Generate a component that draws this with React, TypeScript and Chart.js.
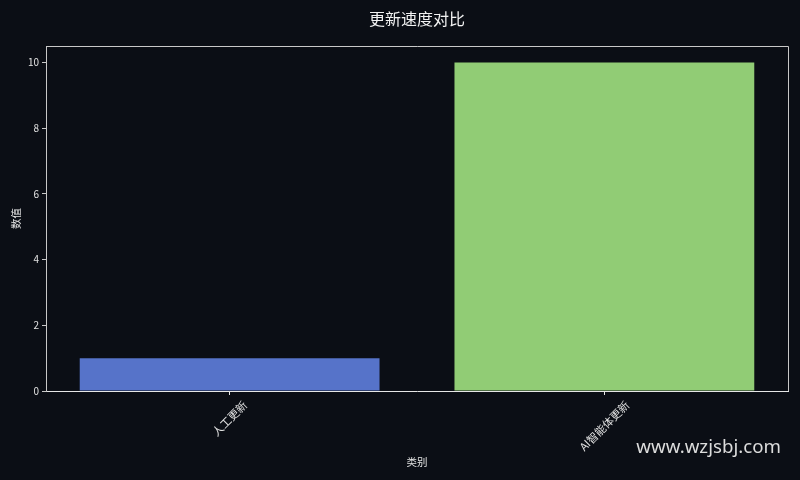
import React, { useEffect, useRef } from "react";
import { Chart, registerables } from "chart.js";

Chart.register(...registerables);

const TITLE = "更新速度对比";
const X_TITLE = "类别";
const Y_TITLE = "数值";
const WATERMARK = "www.wzjsbj.com";
const categories = ["人工更新", "AI智能体更新"];
const values = [1, 10];
const barColors = ["#5673c9", "#91cc75"];
const yTicks = [0, 2, 4, 6, 8, 10];
const Y_MAX = 10.5;
const X_MIN = -0.49;
const X_MAX = 1.49;

const BG = "#0b0e15";
const TEXT = "#e2e2e2";
const FONT = "'Noto Sans CJK SC', 'Noto Sans', sans-serif";

const decorPlugin = {
  id: "decor",
  beforeDraw(chart: any) {
    const { ctx, width, height } = chart;
    ctx.save();
    ctx.fillStyle = BG;
    ctx.fillRect(0, 0, width, height);
    ctx.restore();
  },
  afterDraw(chart: any) {
    const { ctx, chartArea } = chart;
    const a = chartArea;
    const cx = (a.left + a.right) / 2;
    ctx.save();
    // frame top/right
    ctx.strokeStyle = "#c8c8c8";
    ctx.lineWidth = 1;
    ctx.beginPath();
    ctx.moveTo(a.left, a.top + 0.5);
    ctx.lineTo(a.right + 0.5, a.top + 0.5);
    ctx.lineTo(a.right + 0.5, a.bottom);
    ctx.stroke();

    // title
    ctx.fillStyle = "#f2f2f2";
    ctx.font = `16px ${FONT}`;
    ctx.textAlign = "center";
    ctx.textBaseline = "middle";
    ctx.fillText(TITLE, cx, 19);

    // x tick labels rotated 45, centered on tick
    const xs = chart.scales.x;
    ctx.font = `11px ${FONT}`;
    ctx.fillStyle = TEXT;
    const s = Math.SQRT1_2;
    categories.forEach((c, i) => {
      const px = xs.getPixelForValue(i);
      const w = ctx.measureText(c).width;
      const h = 11;
      const bh = w * s + h * s;
      const top = a.bottom + 8;
      ctx.save();
      ctx.translate(px, top + bh / 2);
      ctx.rotate(-Math.PI / 4);
      ctx.textAlign = "center";
      ctx.textBaseline = "middle";
      ctx.fillText(c, 0, 0);
      ctx.restore();
    });

    // axis titles
    ctx.font = `10.5px ${FONT}`;
    ctx.textAlign = "center";
    ctx.textBaseline = "middle";
    ctx.fillText(X_TITLE, cx, 462);
    ctx.save();
    ctx.translate(16, (a.top + a.bottom) / 2);
    ctx.rotate(-Math.PI / 2);
    ctx.fillText(Y_TITLE, 0, 0);
    ctx.restore();

    // watermark
    ctx.font = `18.7px 'Noto Sans', sans-serif`;
    ctx.fillStyle = "#dcdcdc";
    ctx.textAlign = "right";
    ctx.textBaseline = "middle";
    ctx.fillText(WATERMARK, 781, 448);
    ctx.restore();
  },
};

export default function App() {
  const ref = useRef<HTMLCanvasElement>(null);
  useEffect(() => {
    if (!ref.current) return;
    const chart = new Chart(ref.current, {
      type: "bar",
      data: {
        datasets: [
          {
            data: values.map((v, i) => ({ x: i, y: v })),
            backgroundColor: barColors,
            borderWidth: 0,
            categoryPercentage: 1,
            barPercentage: 0.8,
          },
        ],
      },
      options: {
        responsive: false,
        animation: false,
        devicePixelRatio: 1,
        layout: { padding: { top: 46, left: 0, right: 12, bottom: 0 } },
        plugins: {
          legend: { display: false },
          title: { display: false },
          tooltip: { enabled: false },
        },
        scales: {
          x: {
            type: "linear",
            min: X_MIN,
            max: X_MAX,
            offset: false,
            grid: {
              offset: false,
              drawOnChartArea: false,
              drawTicks: true,
              tickLength: 4,
              color: "#e6e6e6",
            },
            border: { display: true, color: "#e6e6e6", width: 1 },
            ticks: { display: false },
            afterBuildTicks(scale: any) {
              scale.ticks = categories.map((_, i) => ({ value: i }));
            },
            afterFit(scale: any) {
              scale.height = 89;
            },
          },
          y: {
            min: 0,
            max: Y_MAX,
            grid: {
              drawOnChartArea: false,
              drawTicks: true,
              tickLength: 4,
              color: "#c8c8c8",
            },
            border: { display: true, color: "#c8c8c8", width: 1 },
            ticks: {
              color: TEXT,
              font: { family: FONT, size: 10 },
              padding: 3,
            },
            afterBuildTicks(scale: any) {
              scale.ticks = yTicks.map((v) => ({ value: v }));
            },
            afterFit(scale: any) {
              scale.width = 46;
            },
          },
        },
      },
      plugins: [decorPlugin],
    });
    return () => chart.destroy();
  }, []);
  return (
    <div style={{ position: "absolute", left: 0, top: 0, width: 800, height: 480, background: BG }}>
      <canvas ref={ref} width={800} height={480} style={{ display: "block" }} />
    </div>
  );
}
